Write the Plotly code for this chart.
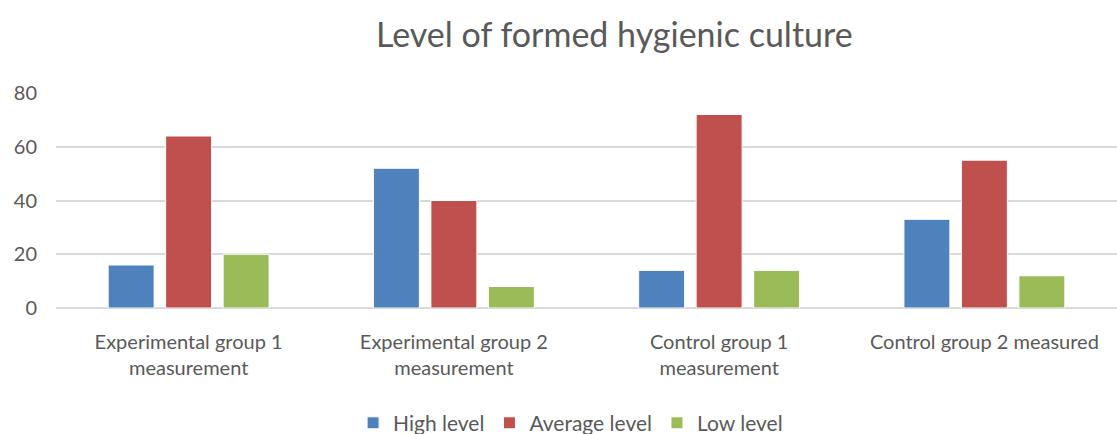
import plotly.graph_objects as go

categories = [
    "Experimental group 1<br>measurement",
    "Experimental group 2<br>measurement",
    "Control group 1<br>measurement",
    "Control group 2 measured",
]
high_level = [16, 52, 14, 33]
average_level = [64, 40, 72, 55]
low_level = [20, 8, 14, 12]

series = [
    ("High level", high_level, "#4F81BD"),
    ("Average level", average_level, "#C0504D"),
    ("Low level", low_level, "#9BBB59"),
]

FONT = "Lato, 'Open Sans', sans-serif"
GREY = "#595959"

fig = go.Figure()
for name, vals, color in series:
    fig.add_trace(
        go.Bar(
            name=name,
            x=categories,
            y=vals,
            marker=dict(color=color, line=dict(color="white", width=1)),
        )
    )

fig.update_layout(
    width=1117,
    height=434,
    margin=dict(l=56, r=0, t=93, b=126),
    paper_bgcolor="white",
    plot_bgcolor="white",
    barmode="group",
    bargap=0.35,
    bargroupgap=0.2,
    font=dict(family=FONT, size=20, color=GREY),
    title=dict(
        text="Level of formed hygienic culture",
        x=0.55,
        xanchor="center",
        y=0.92,
        yanchor="middle",
        font=dict(family=FONT, size=34, color=GREY),
        automargin=False,
    ),
    legend=dict(
        orientation="h",
        x=0.485,
        xanchor="center",
        yref="container",
        y=0.025,
        yanchor="middle",
        font=dict(family=FONT, size=21, color=GREY),
        itemwidth=30,
        traceorder="normal",
    ),
    showlegend=True,
)

fig.update_yaxes(
    range=[0, 80],
    dtick=20,
    showgrid=True,
    gridcolor="#d9d9d9",
    gridwidth=2,
    zeroline=True,
    zerolinecolor="#d9d9d9",
    zerolinewidth=2,
    showline=False,
    ticks="",
    automargin=False,
    ticklabelstandoff=18,
    tickfont=dict(family=FONT, size=20, color=GREY),
)
fig.update_xaxes(
    showgrid=False,
    showline=False,
    ticks="",
    automargin=False,
    ticklabelstandoff=20,
    tickfont=dict(family=FONT, size=20, color=GREY),
)

# drop the default page margin so the figure fills the window exactly
fig.write_html(
    "out.html",
    config={"displayModeBar": False},
    post_script="document.body.style.margin='0px';",
)
